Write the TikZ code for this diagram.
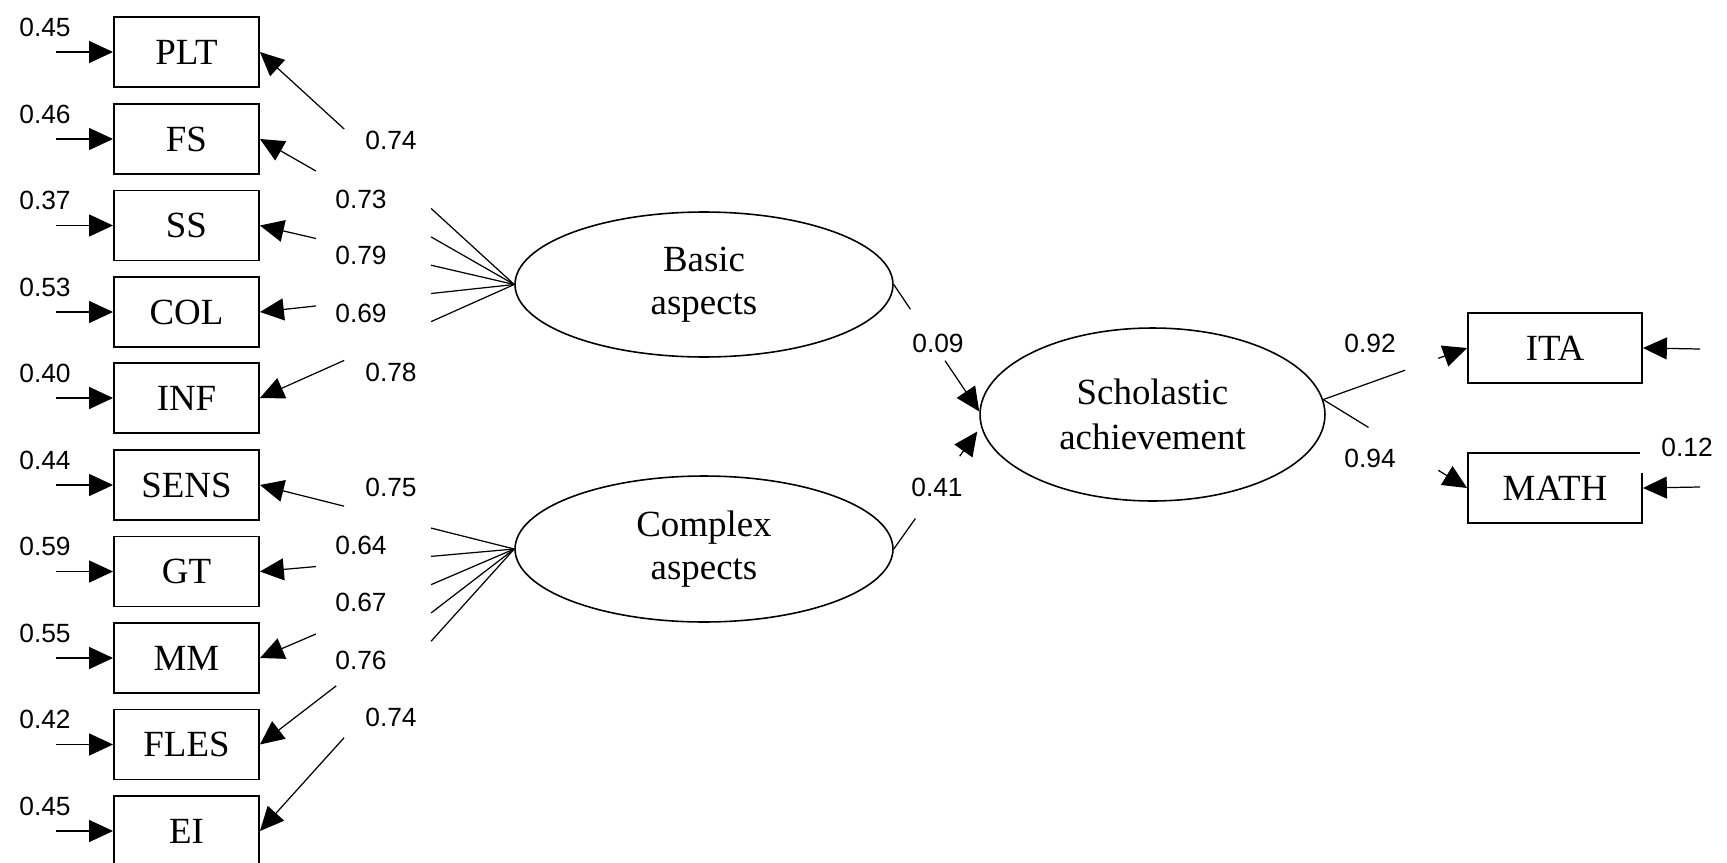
\documentclass[tikz,border=0pt]{standalone}
\usepackage{fontspec}
\setmainfont{Liberation Serif}
\newfontfamily\numfont{Liberation Sans}
\usetikzlibrary{arrows.meta,calc,shapes.geometric}
\tikzset{
  ind/.style={draw,line width=1.1pt,rectangle,minimum width=2.9cm,minimum height=1.4cm,inner sep=0pt,font=\fontsize{21}{24.5}\selectfont},
  obs/.style={draw,line width=1.1pt,rectangle,minimum width=3.48cm,minimum height=1.4cm,inner sep=0pt,font=\fontsize{21}{24.5}\selectfont},
  lat/.style={draw,line width=0.9pt,ellipse,inner sep=0pt,align=center,font=\fontsize{21}{24.5}\selectfont},
  num/.style={inner sep=0pt,font=\fontsize{15}{18}\selectfont\numfont},
  conn/.style={line width=0.7pt},
  arr/.style={line width=0.7pt,-{Triangle[length=13.6pt,width=12.5pt]}}
}
\begin{document}
\begin{tikzpicture}[x=0.02cm,y=-0.02cm]
\useasboundingbox (0,0) rectangle (1727,862);
\clip (0,0) rectangle (1727,862);
% latent variables
\node[lat,minimum width=7.56cm,minimum height=2.9cm] (basic) at (704,284.5) {Basic\\aspects};
\node[lat,minimum width=7.56cm,minimum height=2.92cm] (complex) at (704,549) {Complex\\aspects};
\node[lat,minimum width=6.9cm,minimum height=3.46cm,font=\fontsize{21}{26}\selectfont] (sch) at (1152.5,414.5) {Scholastic\\achievement};
% indicators
\foreach \n/\t/\y/\e in {plt/PLT/52/0.45, fs/FS/139/0.46, ss/SS/225.5/0.37, col/COL/312/0.53, inf/INF/398/0.40, sens/SENS/485/0.44, gt/GT/571.5/0.59, mm/MM/658/0.55, fles/FLES/744.5/0.42, ei/EI/831/0.45} {
  \node[ind] (\n) at (186.5,\y) {\t};
  \node[num] (err-\n) at (45,\y-25) {\e};
  \coordinate (src-\n) at (56,\y);
  \draw[arr] (src-\n) -- (\n.west);
}
% loadings
\foreach \n/\l/\tout/\lx/\ly/\v in {plt/basic/0.669/391/140/0.74, fs/basic/0.78/361/199/0.73, ss/basic/0.78/361/255/0.79, col/basic/0.78/361/313/0.69, inf/basic/0.669/391/372/0.78, sens/complex/0.669/391/487/0.75, gt/complex/0.78/361/545/0.64, mm/complex/0.78/361/602/0.67, fles/complex/0.70/361/660/0.76, ei/complex/0.669/391/717/0.74} {
  \draw[conn] (\l.west) -- ($(\l.west)!0.327!(\n.east)$);
  \draw[arr] ($(\l.west)!\tout!(\n.east)$) -- (\n.east);
  \node[num] (lab-\n) at (\lx,\ly) {\v};
}
% structural paths
\coordinate (s1) at ($(sch.west)+(0,-3)$);
\coordinate (s2) at ($(sch.west)+(-2,17)$);
\draw[conn] (basic.east) -- ($(basic.east)!0.195!(s1)$);
\draw[arr] ($(basic.east)!0.6!(s1)$) -- (s1);
\draw[conn] (complex.east) -- ($(complex.east)!0.26!(s2)$);
\draw[arr] ($(complex.east)!0.79!(s2)$) -- (s2);
\node[num] (b09) at (938,343) {0.09};
\node[num] (c41) at (937,487) {0.41};
% outcome indicators
\node[obs] (ita) at (1555,348) {ITA};
\node[obs] (math) at (1555,488) {MATH};
\draw[conn] (sch.5) -- ($(sch.5)!0.57!(ita.west)$);
\draw[arr] ($(sch.5)!0.8!(ita.west)$) -- (ita.west);
\draw[conn] (sch.5) -- ($(sch.5)!0.315!(math.west)$);
\draw[arr] ($(sch.5)!0.8!(math.west)$) -- (math.west);
\node[num] (l92) at (1370,343) {0.92};
\node[num] (l94) at (1370,458) {0.94};
\coordinate (src-ita) at (1700,349);
\coordinate (src-math) at (1700,487);
\draw[arr] (src-ita) -- (ita.east);
\draw[arr] (src-math) -- (math.east);
\node[num,fill=white,minimum width=1.88cm,minimum height=1.04cm] (err-math) at (1687,447) {0.12};
\end{tikzpicture}
\end{document}
